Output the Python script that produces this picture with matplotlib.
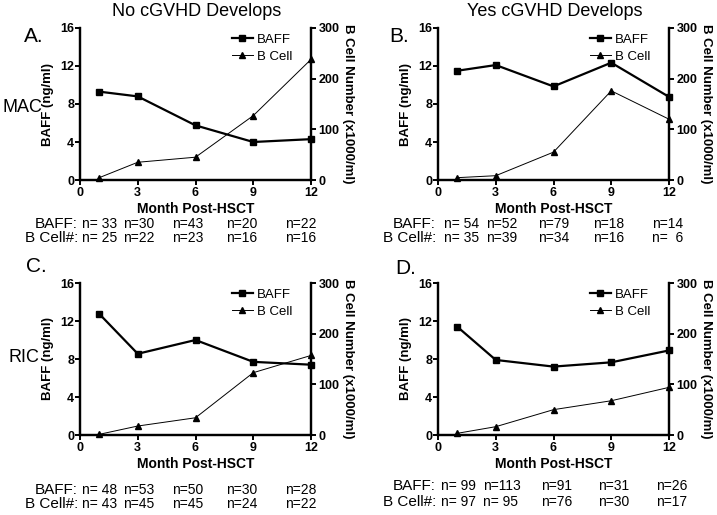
import numpy as np
import matplotlib
matplotlib.use("Agg")
import matplotlib.pyplot as plt
from matplotlib.lines import Line2D

plt.rcParams['font.family'] = ['Liberation Sans', 'DejaVu Sans']

# --- datos ---
months = [1, 3, 6, 9, 12]

baff_mac_no = [9.3, 8.8, 5.75, 4.0, 4.3]
bcell_mac_no = [4.6, 35, 45, 127, 238]
baff_mac_yes = [11.5, 12.1, 9.85, 12.35, 8.75]
bcell_mac_yes = [4.6, 8.5, 55, 176, 120]
baff_ric_no = [12.75, 8.55, 10.0, 7.7, 7.4]
bcell_ric_no = [1.3, 17.7, 34, 123, 157]
baff_ric_yes = [11.4, 7.9, 7.2, 7.65, 8.9]
bcell_ric_yes = [3.3, 16.4, 50, 67.6, 94]

n_baff_a = ["n= 33", "n=30", "n=43", "n=20", "n=22"]
n_bcell_a = ["n= 25", "n=22", "n=23", "n=16", "n=16"]
n_baff_b = ["n= 54", "n=52", "n=79", "n=18", "n=14"]
n_bcell_b = ["n= 35", "n=39", "n=34", "n=16", "n=  6"]
n_baff_c = ["n= 48", "n=53", "n=50", "n=30", "n=28"]
n_bcell_c = ["n= 43", "n=45", "n=45", "n=24", "n=22"]
n_baff_d = ["n= 99", "n=113", "n=91", "n=31", "n=26"]
n_bcell_d = ["n= 97", "n= 95", "n=76", "n=30", "n=17"]

W, H = 717, 515
fig = plt.figure(figsize=(W / 100, H / 100), dpi=100)


def px(x, y):
    return x / W, 1 - y / H


def panel(left, top, baff, bcell):
    aw, ah = 231, 152
    x0, y0 = px(left, top + ah)
    ax = fig.add_axes([x0, y0, aw / W, ah / H])
    ax2 = ax.twinx()
    ax.plot(months, baff, color='black', lw=1.6, marker='s', ms=5, clip_on=False, zorder=3)
    ax2.plot(months, bcell, color='black', lw=0.7, marker='^', ms=5, clip_on=False, zorder=3)
    ax.set_xlim(0, 12)
    ax.set_ylim(0, 16)
    ax2.set_ylim(0, 300)
    ax.set_xticks([0, 3, 6, 9, 12])
    ax.set_yticks([0, 4, 8, 12, 16])
    ax2.set_yticks([0, 100, 200, 300])
    for a in (ax, ax2):
        a.spines['top'].set_visible(False)
        for s in a.spines.values():
            s.set_linewidth(1.6)
        a.tick_params(direction='out', length=3.5, width=1.4, labelsize=9, pad=2)
        for lab in a.get_xticklabels() + a.get_yticklabels():
            lab.set_fontweight('bold')
    ax.tick_params(axis='y', pad=0.8)
    ax.tick_params(axis='x', pad=1.5)
    ax.set_ylabel("BAFF (ng/ml)", fontsize=9.5, fontweight='bold', labelpad=4)
    ax2.set_ylabel("B Cell Number (x1000/ml)", fontsize=9.5, fontweight='bold',
                   rotation=270, labelpad=10)
    ax.set_xlabel("Month Post-HSCT", fontsize=10, fontweight='bold', labelpad=2)
    handles = [Line2D([], [], color='black', lw=1.6, marker='s', ms=5),
               Line2D([], [], color='black', lw=0.7, marker='^', ms=5)]
    ax2.legend(handles, ["BAFF", "B Cell"], loc='upper right', bbox_to_anchor=(0.97, 1.04),
               frameon=False, fontsize=9.5, handlelength=1.6, handletextpad=0.3,
               labelspacing=0.35)
    return ax


def n_rows(left, y1, y2, n1, n2, cols):
    fig.text(*px(left - 2, y1), "BAFF:", fontsize=11, ha='right', va='center')
    fig.text(*px(left - 2, y2), "B Cell#:", fontsize=11, ha='right', va='center')
    for c, a, b in zip(cols, n1, n2):
        fig.text(*px(left + c, y1), a, fontsize=10, ha='left', va='center')
        fig.text(*px(left + c, y2), b, fontsize=10, ha='left', va='center')


panel(80, 28, baff_mac_no, bcell_mac_no)
panel(438, 28, baff_mac_yes, bcell_mac_yes)
panel(80, 283, baff_ric_no, bcell_ric_no)
panel(438, 283, baff_ric_yes, bcell_ric_yes)

cols_l = [2, 43, 92, 146, 205]
cols_r = [6, 48, 100, 155, 214]
n_rows(80, 223.5, 238.5, n_baff_a, n_bcell_a, cols_l)
n_rows(438, 223.5, 238.5, n_baff_b, n_bcell_b, cols_r)
n_rows(80, 490, 504, n_baff_c, n_bcell_c, cols_l)
n_rows(438, 486, 502, n_baff_d, n_bcell_d, [3, 45, 103, 160, 218])

# titulos y etiquetas
fig.text(*px(197, 12), "No cGVHD Develops", fontsize=13, ha='center', va='center')
fig.text(*px(555, 12), "Yes cGVHD Develops", fontsize=13, ha='center', va='center')
fig.text(*px(24, 36), "A.", fontsize=15, ha='left', va='center')
fig.text(*px(389, 36), "B.", fontsize=15, ha='left', va='center')
fig.text(*px(26, 267), "C.", fontsize=15, ha='left', va='center')
fig.text(*px(395, 268), "D.", fontsize=15, ha='left', va='center')
fig.text(*px(3, 108), "MAC", fontsize=13, ha='left', va='center')
fig.text(*px(8, 358), "RIC", fontsize=13, ha='left', va='center')

fig.savefig("out.png", dpi=100)
